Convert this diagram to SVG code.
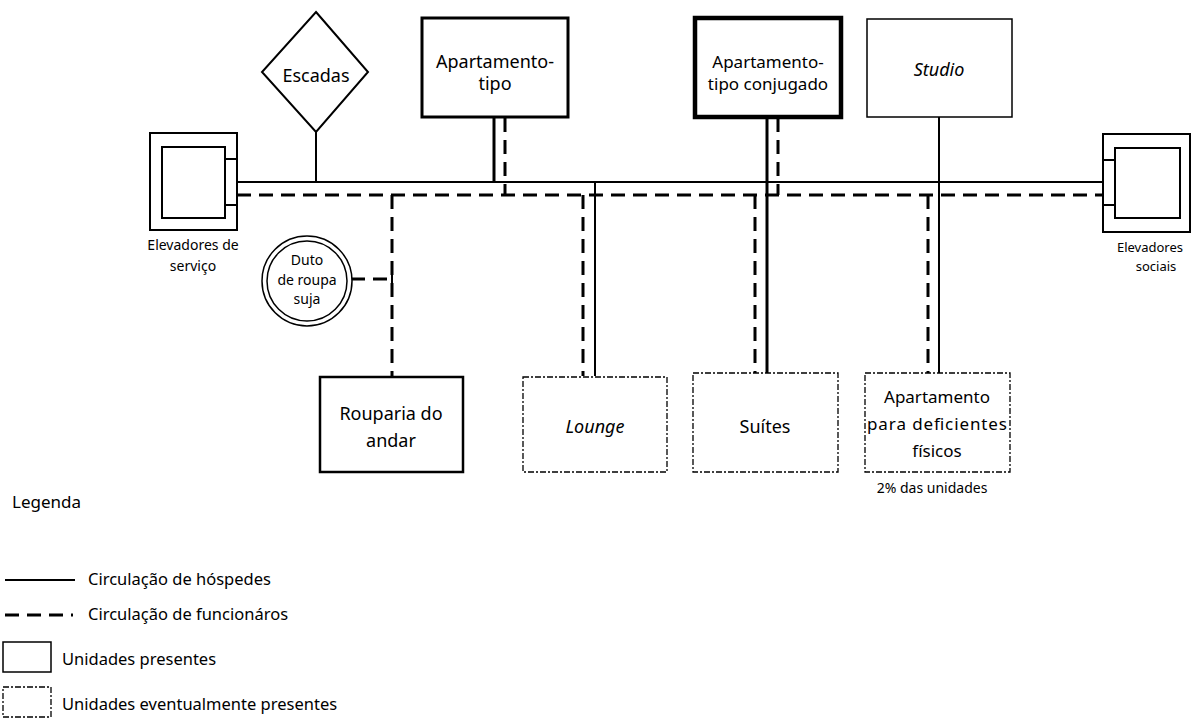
<svg xmlns="http://www.w3.org/2000/svg" width="1192" height="718" viewBox="0 0 1192 718">
<style>
  text { font-family: "Noto Sans", "Open Sans", sans-serif; fill: #000; text-anchor: middle; }
  .t18 { font-size: 18px; }
  .t17 { font-size: 17px; }
  .t14 { font-size: 14px; }
  .t13 { font-size: 13px; }
  .it { font-style: italic; }
  .leg { font-size: 16.5px; text-anchor: start; }
  .box { fill: #fff; stroke: #000; }
  .thin { stroke-width: 1.5; }
  .thick { stroke-width: 3; }
  .heavy { stroke-width: 4.5; }
  .evt { fill: #fff; stroke: #000; stroke-width: 1.3; stroke-dasharray: 6 2 2 2; }
  .solid { fill: none; stroke: #000; stroke-width: 2; }
  .solid3 { fill: none; stroke: #000; stroke-width: 3; }
  .dash { fill: none; stroke: #000; stroke-width: 3; stroke-dasharray: 14 8; }
</style>
<rect width="1192" height="718" fill="#fff"/>

<g id="connectors">
  <!-- guest circulation (solid) -->
  <line class="solid" x1="237" y1="182" x2="1103" y2="182"/>
  <line class="solid" x1="316" y1="132" x2="316" y2="182"/>
  <line class="solid3" x1="494" y1="117" x2="494" y2="182"/>
  <line class="solid" x1="595" y1="182" x2="595" y2="376"/>
  <line class="solid3" x1="767" y1="117" x2="767" y2="373"/>
  <line class="solid" x1="939" y1="117" x2="939" y2="373"/>
  <!-- staff circulation (dashed) -->
  <line class="dash" x1="237" y1="195" x2="1103" y2="195"/>
  <line class="dash" x1="505" y1="118" x2="505" y2="195"/>
  <line class="dash" x1="392" y1="195" x2="392" y2="376"/>
  <line class="dash" x1="583" y1="195" x2="583" y2="376"/>
  <line class="dash" x1="778" y1="118" x2="778" y2="195"/>
  <line class="dash" x1="755" y1="195" x2="755" y2="373"/>
  <line class="dash" x1="928" y1="195" x2="928" y2="373"/>
  <line class="dash" x1="351" y1="279" x2="392" y2="279"/>
  <line class="solid" x1="392" y1="271" x2="392" y2="289"/>
</g>

<g id="elev-servico">
  <rect class="box" x="150" y="133" width="87" height="97" stroke-width="2"/>
  <rect class="box" x="162" y="147" width="63" height="71" stroke-width="2"/>
  <line class="solid" x1="225" y1="159" x2="237" y2="159" stroke-width="1.2"/>
  <line class="solid" x1="225" y1="205" x2="237" y2="205" stroke-width="1.2"/>
  <text class="t14" x="193" y="250">Elevadores de</text>
  <text class="t14" x="193" y="271">serviço</text>
</g>

<g id="escadas">
  <polygon class="box" points="316,12 368,72 316,132 262,72" stroke-width="2"/>
  <text class="t18" x="316" y="82">Escadas</text>
</g>

<g id="apartamento-tipo">
  <rect class="box thick" x="422" y="18" width="146" height="99"/>
  <text class="t18" x="495" y="68">Apartamento-</text>
  <text class="t18" x="495" y="90">tipo</text>
</g>

<g id="apartamento-conjugado">
  <rect class="box heavy" x="695" y="18" width="146" height="99"/>
  <text class="t17" x="768" y="68">Apartamento-</text>
  <text class="t17" x="768" y="90">tipo conjugado</text>
</g>

<g id="studio">
  <rect class="box thin" x="867" y="19" width="145" height="98"/>
  <text class="t18 it" x="939" y="76">Studio</text>
</g>

<g id="elev-sociais">
  <rect class="box" x="1103" y="134" width="87" height="98" stroke-width="2"/>
  <rect class="box" x="1115" y="148" width="65" height="70" stroke-width="2"/>
  <line class="solid" x1="1103" y1="160" x2="1115" y2="160" stroke-width="1.2"/>
  <line class="solid" x1="1103" y1="205" x2="1115" y2="205" stroke-width="1.2"/>
  <text class="t13" x="1150" y="252">Elevadores</text>
  <text class="t13" x="1156" y="271">sociais</text>
</g>

<g id="duto">
  <circle cx="307" cy="281" r="45" fill="#fff" stroke="#000" stroke-width="1.5"/>
  <circle cx="307" cy="281" r="40" fill="#fff" stroke="#000" stroke-width="1.5"/>
  <text class="t14" x="307" y="265">Duto</text>
  <text class="t14" x="307" y="285">de roupa</text>
  <text class="t14" x="307" y="304">suja</text>
</g>

<g id="rouparia">
  <rect class="box" x="320" y="377" width="143" height="95" stroke-width="2.5"/>
  <text class="t18" x="391" y="420">Rouparia do</text>
  <text class="t18" x="391" y="447">andar</text>
</g>

<g id="lounge">
  <rect class="evt" x="523" y="377" width="144" height="95"/>
  <text class="t18 it" x="595" y="433">Lounge</text>
</g>

<g id="suites">
  <rect class="evt" x="693" y="373" width="145" height="99"/>
  <text class="t18" x="765" y="433">Suítes</text>
</g>

<g id="apartamento-deficientes">
  <rect class="evt" x="865" y="373" width="145" height="99"/>
  <text class="t17" x="937" y="403">Apartamento</text>
  <text class="t17" x="937" y="430" textLength="140">para deficientes</text>
  <text class="t17" x="937" y="457">físicos</text>
  <text class="t14" x="932" y="493">2% das unidades</text>
</g>

<g id="legenda">
  <text class="leg" x="12" y="508" style="font-size:17px">Legenda</text>
  <line class="solid" x1="5" y1="580" x2="75" y2="580" stroke-width="1.5"/>
  <text class="leg" x="88" y="585">Circulação de hóspedes</text>
  <line class="dash" x1="5" y1="615" x2="73" y2="615" stroke-dasharray="16 10"/>
  <text class="leg" x="88" y="620">Circulação de funcionáros</text>
  <rect class="box" x="3" y="642" width="48" height="30" stroke-width="1.5"/>
  <text class="leg" x="62" y="665">Unidades presentes</text>
  <rect class="evt" x="3" y="687" width="48" height="30" stroke-width="1"/>
  <text class="leg" x="62" y="710">Unidades eventualmente presentes</text>
</g>
</svg>
